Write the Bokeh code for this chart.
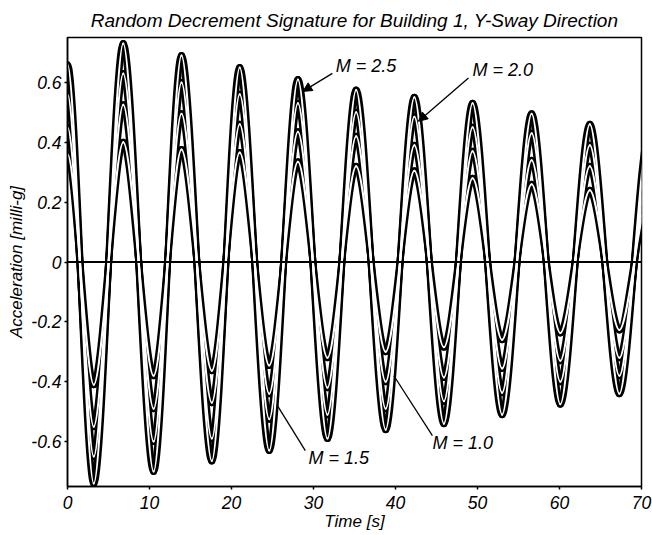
from bokeh.plotting import figure
from bokeh.models import ColumnDataSource, Span, Arrow, NormalHead, FixedTicker, Range1d
from bokeh.core.properties import value
from bokeh.embed import file_html
from bokeh.resources import INLINE

# Times of successive extremes (peaks / troughs) of the signatures [s]
t_ext = [0.0, 3.2, 6.8, 10.5, 13.9, 17.6, 21.0, 24.6, 28.1, 31.7, 35.2,
         38.8, 42.3, 45.9, 49.4, 53.0, 56.6, 60.1, 63.7, 67.3, 70.9]

# Extreme values of each signature [milli-g]
m25 = [0.66, -0.74, 0.73, -0.70, 0.69, -0.665, 0.65, -0.63, 0.61, -0.59, 0.575,
       -0.56, 0.55, -0.54, 0.53, -0.51, 0.495, -0.475, 0.46, -0.44, 0.43]
m20 = [0.56, -0.65, 0.63, -0.60, 0.60, -0.59, 0.56, -0.525, 0.53, -0.51, 0.50,
       -0.49, 0.485, -0.465, 0.45, -0.437, 0.43, -0.40, 0.39, -0.38, 0.36]
m15 = [0.45, -0.55, 0.525, -0.49, 0.495, -0.47, 0.46, -0.44, 0.435, -0.42, 0.42,
       -0.40, 0.39, -0.386, 0.37, -0.356, 0.34, -0.33, 0.32, -0.32, 0.29]
m10 = [0.36, -0.41, 0.40, -0.38, 0.376, -0.363, 0.366, -0.346, 0.335, -0.32, 0.32,
       -0.30, 0.305, -0.285, 0.28, -0.26, 0.26, -0.237, 0.24, -0.227, 0.22]

series = [m10, m15, m20, m25]

y_ticks = [-0.6, -0.4, -0.2, 0, 0.2, 0.4, 0.6]
y_tick_labels = ["-0.6", "-0.4", "-0.2", "0", "0.2", "0.4", "0.6"]
x_ticks = [0, 10, 20, 30, 40, 50, 60, 70]

# Curve labels: text, text position, leader line start/end, arrowhead flag
lab_text = ["M = 2.5", "M = 2.0", "M = 1.5", "M = 1.0"]
lab_x = [32.7, 49.4, 29.4, 44.5]
lab_y = [0.655, 0.64, -0.655, -0.605]
lead_x0 = [32.3, 48.9, 29.0, 44.5]
lead_y0 = [0.63, 0.615, -0.63, -0.58]
lead_x1 = [28.7, 42.8, 25.6, 39.8]
lead_y1 = [0.57, 0.47, -0.48, -0.38]
lead_head = [True, True, False, False]

FONT = "Liberation Sans"
K = 0.30  # Bezier handle fraction for each half-wave between extremes


def segments(t, v):
    """Smooth half-wave Bezier segments joining consecutive extremes."""
    d = dict(x0=[], y0=[], x1=[], y1=[], cx0=[], cy0=[], cx1=[], cy1=[])
    for i in range(len(t) - 1):
        dt = t[i + 1] - t[i]
        d["x0"].append(t[i]); d["y0"].append(v[i])
        d["x1"].append(t[i + 1]); d["y1"].append(v[i + 1])
        d["cx0"].append(t[i] + K * dt); d["cy0"].append(v[i])
        d["cx1"].append(t[i + 1] - K * dt); d["cy1"].append(v[i + 1])
    return ColumnDataSource(d)


p = figure(width=652, height=535, output_backend="svg", toolbar_location=None,
           x_range=Range1d(0, 70), y_range=Range1d(-0.75, 0.75),
           min_border_left=67, min_border_right=11, min_border_top=36,
           min_border_bottom=49)

p.title.text = "Random Decrement Signature for Building 1, Y-Sway Direction"
p.title.align = "center"
p.title.text_font = FONT
p.title.text_font_style = "italic"
p.title.text_font_size = "19px"
p.title.text_color = "black"
p.title.offset = -10
p.title.standoff = 14

p.grid.visible = False
p.outline_line_color = "black"
p.outline_line_width = 1.5
p.background_fill_color = "white"
p.border_fill_color = "white"

for ax in (p.xaxis[0], p.yaxis[0]):
    ax.axis_line_width = 1.5
    ax.axis_line_color = "black"
    ax.major_tick_in = 0
    ax.major_tick_out = 3
    ax.major_tick_line_width = 1.5
    ax.minor_tick_line_color = None
    ax.major_label_text_font = FONT
    ax.major_label_text_font_style = "italic"
    ax.major_label_text_font_size = "17.5px"
    ax.major_label_text_color = "black"
    ax.axis_label_text_font = FONT
    ax.axis_label_text_font_style = "italic"
    ax.axis_label_text_font_size = "17px"
    ax.axis_label_text_color = "black"

p.xaxis.ticker = FixedTicker(ticks=x_ticks)
p.yaxis.ticker = FixedTicker(ticks=y_ticks)
p.yaxis.major_label_overrides = dict(zip(y_ticks, y_tick_labels))
p.xaxis.axis_label = "Time [s]"
p.yaxis.axis_label = "Acceleration [milli-g]"
p.xaxis.axis_label_standoff = 0
p.yaxis.axis_label_standoff = 2
p.xaxis.major_label_standoff = 6
p.yaxis.major_label_standoff = 3

# zero reference line
p.add_layout(Span(location=0, dimension="width", line_color="black", line_width=2))

sources = [segments(t_ext, v) for v in series]

# Each signature is drawn as a black tube with a white core
for src in sources:
    p.bezier(x0="x0", y0="y0", x1="x1", y1="y1", cx0="cx0", cy0="cy0",
             cx1="cx1", cy1="cy1", source=src, line_color="black",
             line_width=7, line_cap="round")
for src in sources:
    p.bezier(x0="x0", y0="y0", x1="x1", y1="y1", cx0="cx0", cy0="cy0",
             cx1="cx1", cy1="cy1", source=src, line_color="white",
             line_width=2, line_cap="round")

# Labels with leader lines
for i in range(len(lab_text)):
    head = NormalHead(size=9, fill_color="black", line_color="black") if lead_head[i] else None
    p.add_layout(Arrow(x_start=lead_x0[i], y_start=lead_y0[i],
                       x_end=lead_x1[i], y_end=lead_y1[i],
                       end=head, line_color="black", line_width=1.3))

p.text(x=lab_x, y=lab_y, text=lab_text, text_font=value(FONT),
       text_font_style="italic", text_font_size="18px", text_color="black",
       text_align="left", text_baseline="middle")

open("out.html", "w").write(file_html(p, INLINE))
